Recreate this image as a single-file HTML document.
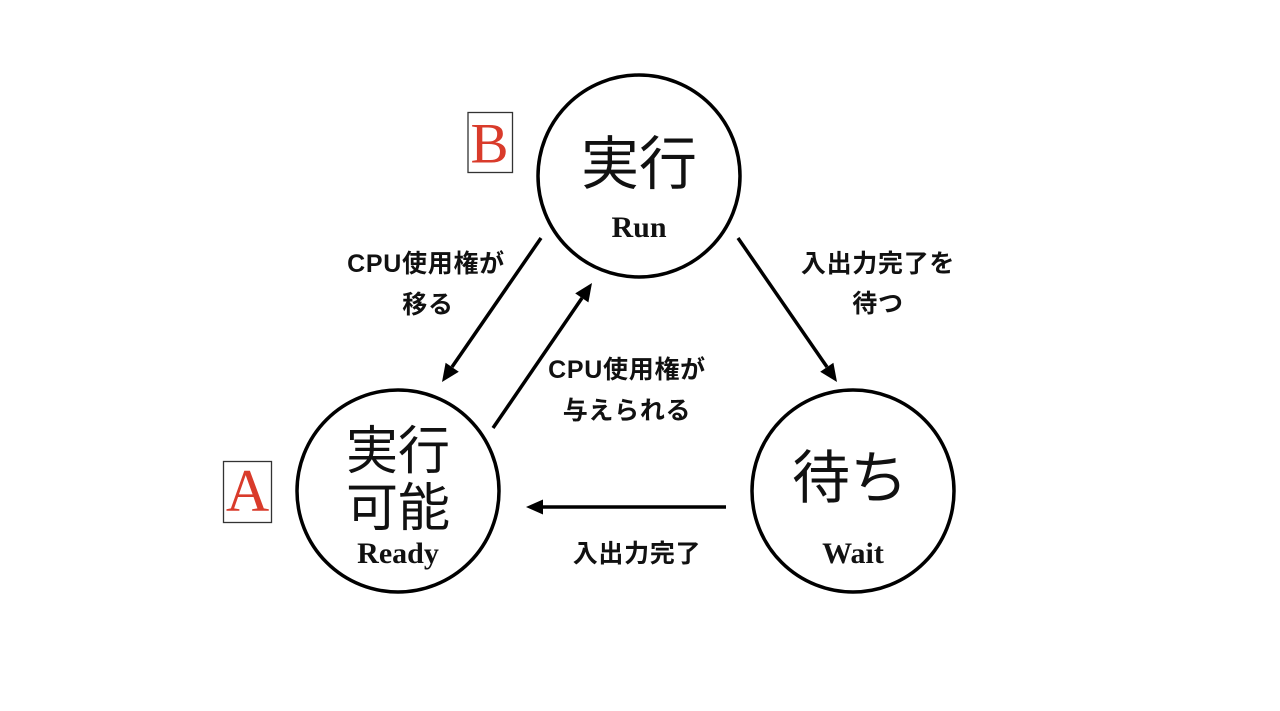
<!DOCTYPE html>
<html>
<head>
<meta charset="utf-8">
<style>
  html, body { margin: 0; padding: 0; background: #ffffff; }
  body { width: 1280px; height: 711px; overflow: hidden; }
  svg { display: block; }
  .lbl { font-family: "Liberation Sans", "Noto Sans CJK JP", sans-serif; font-weight: bold; font-size: 25px; letter-spacing: 0.7px; fill: #111; }
  .en { font-family: "Liberation Serif", "Noto Serif CJK SC", serif; font-weight: bold; font-size: 30px; fill: #111; }
  .big { font-family: "Noto Sans CJK JP", "Liberation Sans", sans-serif; font-weight: 400; fill: #111; }
  .mark { font-family: "Liberation Serif", serif; fill: #d93b2b; }
</style>
</head>
<body>
<svg width="1280" height="711" viewBox="0 0 1280 711" xmlns="http://www.w3.org/2000/svg">
  <rect x="0" y="0" width="1280" height="711" fill="#ffffff"/>

  <!-- Circles -->
  <circle cx="639" cy="176" r="101" fill="none" stroke="#000" stroke-width="3.5"/>
  <circle cx="398" cy="491" r="101" fill="none" stroke="#000" stroke-width="3.5"/>
  <circle cx="853" cy="491" r="101" fill="none" stroke="#000" stroke-width="3.5"/>

  <!-- Circle texts -->
  <text class="big" x="639" y="184" font-size="58" text-anchor="middle">実行</text>
  <text class="en" x="639" y="237" text-anchor="middle">Run</text>

  <text class="big" x="398" y="469" font-size="52" text-anchor="middle">実行</text>
  <text class="big" x="398" y="526" font-size="52" text-anchor="middle">可能</text>
  <text class="en" x="398" y="563" text-anchor="middle">Ready</text>

  <text class="big" x="850" y="498" font-size="58" text-anchor="middle">待ち</text>
  <text class="en" x="853" y="563" text-anchor="middle">Wait</text>

  <!-- Arrow 1: Run -> Ready -->
  <line x1="541" y1="238" x2="452" y2="367" stroke="#000" stroke-width="3.5"/>
  <polygon points="442,382 458.8,371.7 445.6,362.7" fill="#000"/>

  <!-- Arrow 2: Ready -> Run -->
  <line x1="493" y1="428" x2="582" y2="298" stroke="#000" stroke-width="3.5"/>
  <polygon points="592,283 588.4,302.4 575.2,293.4" fill="#000"/>

  <!-- Arrow 3: Run -> Wait -->
  <line x1="738" y1="238" x2="827" y2="367" stroke="#000" stroke-width="3.5"/>
  <polygon points="837,382 833.4,362.7 820.2,371.7" fill="#000"/>

  <!-- Arrow 4: Wait -> Ready -->
  <line x1="726" y1="507" x2="542" y2="507" stroke="#000" stroke-width="3.5"/>
  <polygon points="526,507 543,499.5 543,514.5" fill="#000"/>

  <!-- Edge labels -->
  <text class="lbl" x="426" y="272" text-anchor="middle">CPU使用権が</text>
  <text class="lbl" x="428" y="313" text-anchor="middle">移る</text>

  <text class="lbl" x="627" y="378" text-anchor="middle">CPU使用権が</text>
  <text class="lbl" x="627" y="419" text-anchor="middle">与えられる</text>

  <text class="lbl" x="878" y="272" text-anchor="middle">入出力完了を</text>
  <text class="lbl" x="878" y="312" text-anchor="middle">待つ</text>

  <text class="lbl" x="637" y="562" text-anchor="middle">入出力完了</text>

  <!-- Marker boxes -->
  <rect x="468" y="112.5" width="44.5" height="60" fill="#fff" stroke="#333" stroke-width="1.3"/>
  <text class="mark" x="489.5" y="162.5" font-size="57" text-anchor="middle">B</text>

  <rect x="223.5" y="461.5" width="48" height="61" fill="#fff" stroke="#333" stroke-width="1.3"/>
  <text class="mark" x="247.5" y="511" font-size="60" text-anchor="middle">A</text>
</svg>
</body>
</html>
